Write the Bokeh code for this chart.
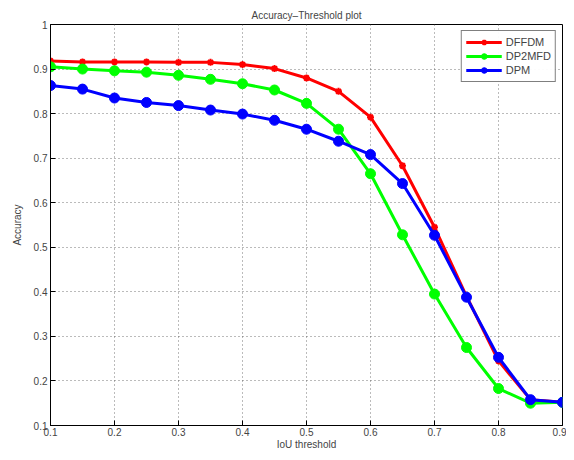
from bokeh.plotting import figure
from bokeh.models import Legend, LegendItem, FixedTicker, Range1d
from bokeh.embed import file_html
from bokeh.resources import INLINE

iou = [0.1, 0.15, 0.2, 0.25, 0.3, 0.35, 0.4, 0.45, 0.5, 0.55, 0.6, 0.65, 0.7, 0.75, 0.8, 0.85, 0.9]
dffdm = [0.918, 0.916, 0.916, 0.916, 0.915, 0.915, 0.910, 0.901, 0.880, 0.850, 0.792, 0.683, 0.545, 0.390, 0.245, 0.158, 0.152]
dp2mfd = [0.905, 0.900, 0.896, 0.893, 0.886, 0.877, 0.867, 0.853, 0.823, 0.765, 0.665, 0.528, 0.395, 0.275, 0.183, 0.150, 0.152]
dpm = [0.863, 0.855, 0.835, 0.825, 0.818, 0.808, 0.799, 0.785, 0.765, 0.738, 0.708, 0.643, 0.527, 0.388, 0.253, 0.158, 0.152]
xticks = [0.1, 0.2, 0.3, 0.4, 0.5, 0.6, 0.7, 0.8, 0.9]
yticks = [0.1, 0.2, 0.3, 0.4, 0.5, 0.6, 0.7, 0.8, 0.9, 1.0]

FONT = "Liberation Sans"

p = figure(width=566, height=452, output_backend="svg", toolbar_location=None,
           x_range=Range1d(0.1, 0.9), y_range=Range1d(0.1, 1.0),
           min_border_left=50, min_border_right=4, min_border_top=24, min_border_bottom=24,
           title="Accuracy\u2013Threshold plot")
p.title.align = "center"
p.title.text_font = FONT
p.title.text_font_size = "10px"
p.title.text_font_style = "normal"
p.title.offset = 0
p.title.standoff = 8
p.outline_line_color = "black"
p.outline_line_width = 1

p.xaxis.ticker = FixedTicker(ticks=xticks)
p.yaxis.ticker = FixedTicker(ticks=yticks)
p.yaxis.major_label_overrides = {1.0: "1"}
for ax in (p.xaxis[0], p.yaxis[0]):
    ax.major_tick_in = 5
    ax.major_tick_out = 0
    ax.minor_tick_line_color = None
    ax.major_label_text_font = FONT
    ax.major_label_text_font_size = "10px"
    ax.axis_label_text_font = FONT
    ax.axis_label_text_font_size = "10px"
    ax.axis_label_text_font_style = "normal"
    ax.axis_line_color = "black"
    ax.major_label_standoff = 3
    ax.axis_label_standoff = 0
p.xaxis.major_label_standoff = 2
p.yaxis.axis_label_standoff = 8
p.xaxis.axis_label = "IoU threshold"
p.yaxis.axis_label = "Accuracy"

p.xgrid.grid_line_color = "#555555"
p.ygrid.grid_line_color = "#555555"
p.xgrid.grid_line_dash = "1 3"
p.ygrid.grid_line_dash = "1 3"
p.xgrid.grid_line_alpha = 0.8
p.ygrid.grid_line_alpha = 0.8

r1 = p.line(iou, dffdm, color="red", line_width=3)
m1 = p.scatter(iou, dffdm, marker="asterisk", size=7, line_color="red", line_width=2)
r2 = p.line(iou, dp2mfd, color="#00ff00", line_width=3)
m2 = p.scatter(iou, dp2mfd, marker="circle", size=10, fill_color="#00ff00", line_color="#00ff00")
r3 = p.line(iou, dpm, color="blue", line_width=3)
m3 = p.scatter(iou, dpm, marker="circle", size=10, fill_color="blue", line_color="blue")

legend = Legend(items=[LegendItem(label="DFFDM", renderers=[r1, m1]),
                       LegendItem(label="DP2MFD", renderers=[r2, m2]),
                       LegendItem(label="DPM", renderers=[r3, m3])],
                location="top_right")
legend.label_text_font = FONT
legend.label_text_font_size = "11px"
legend.border_line_color = "black"
legend.border_line_width = 1
legend.margin = 6
legend.padding = 4
legend.spacing = 0
legend.label_height = 12
legend.glyph_height = 14
legend.glyph_width = 36
legend.label_standoff = 4
p.add_layout(legend)

open("out.html", "w").write(file_html(p, INLINE))
